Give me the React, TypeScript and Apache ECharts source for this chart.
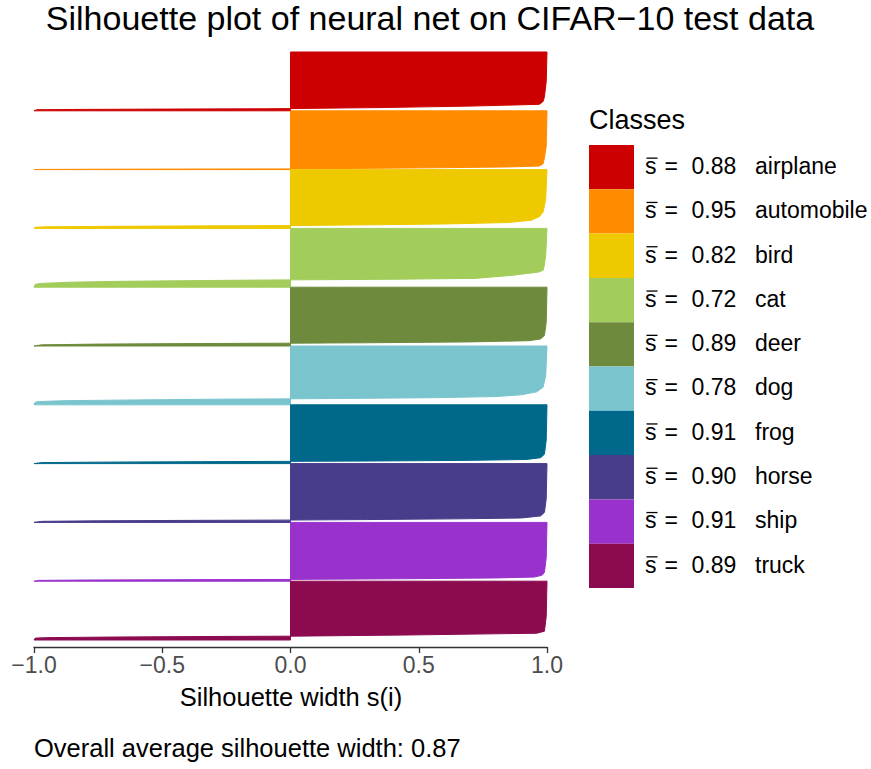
import React, { useEffect, useRef } from "react";
import * as echarts from "echarts";

const classNames = ["airplane", "automobile", "bird", "cat", "deer", "dog", "frog", "horse", "ship", "truck"];
const meanWidths = [0.88, 0.95, 0.82, 0.72, 0.89, 0.78, 0.91, 0.9, 0.91, 0.89];
const classColors = ["#CD0000", "#FF8C00", "#EEC900", "#A2CD5A", "#6E8B3D", "#7AC5CD", "#00688B", "#483D8B", "#9932CC", "#8B0A50"];
const xTicks = [-1, -0.5, 0, 0.5, 1];
const overallMean = 0.87;

// sorted silhouette profile of each class: [rank fraction within class (0 = top, 1 = bottom), silhouette width s(i)]
const airplaneProfile = [[0, 1.0], [0.5, 0.997], [0.76, 0.99], [0.84, 0.985], [0.89, 0.97], [0.92, 0.7], [0.945, 0.35], [0.962, 0], [0.966, -0.1], [0.971, -0.5], [0.977, -0.85], [0.982, -0.99], [1, -1.0]];
const automobileProfile = [[0, 1.0], [0.6, 0.997], [0.8, 0.99], [0.9, 0.985], [0.94, 0.97], [0.955, 0.85], [0.97, 0.55], [0.98, 0.25], [0.988, 0], [0.99, -0.3], [0.994, -0.75], [0.997, -0.98], [1, -1.0]];
const birdProfile = [[0, 1.0], [0.5, 0.995], [0.72, 0.985], [0.8, 0.97], [0.86, 0.94], [0.9, 0.85], [0.925, 0.6], [0.94, 0.3], [0.952, 0], [0.957, -0.3], [0.965, -0.7], [0.973, -0.95], [0.98, -0.995], [1, -1.0]];
const catProfile = [[0, 1.0], [0.45, 0.995], [0.62, 0.99], [0.71, 0.985], [0.74, 0.97], [0.8, 0.86], [0.85, 0.72], [0.865, 0.4], [0.875, 0], [0.885, -0.3], [0.9, -0.66], [0.915, -0.86], [0.935, -0.97], [0.95, -0.995], [1, -1.0]];
const deerProfile = [[0, 1.0], [0.6, 0.997], [0.82, 0.99], [0.88, 0.975], [0.91, 0.93], [0.93, 0.7], [0.945, 0.3], [0.952, 0], [0.958, -0.35], [0.968, -0.75], [0.98, -0.97], [1, -1.0]];
const dogProfile = [[0, 1.0], [0.5, 0.995], [0.7, 0.985], [0.78, 0.96], [0.83, 0.9], [0.86, 0.8], [0.88, 0.55], [0.892, 0.2], [0.898, 0], [0.905, -0.3], [0.917, -0.6], [0.93, -0.88], [0.945, -0.98], [0.955, -0.995], [1, -1.0]];
const frogProfile = [[0, 1.0], [0.6, 0.997], [0.84, 0.99], [0.9, 0.975], [0.93, 0.92], [0.945, 0.7], [0.955, 0.35], [0.962, 0], [0.967, -0.35], [0.975, -0.75], [0.983, -0.97], [1, -1.0]];
const horseProfile = [[0, 1.0], [0.6, 0.997], [0.83, 0.99], [0.89, 0.975], [0.925, 0.9], [0.94, 0.65], [0.952, 0.3], [0.96, 0], [0.965, -0.35], [0.973, -0.75], [0.982, -0.97], [1, -1.0]];
const shipProfile = [[0, 1.0], [0.6, 0.997], [0.85, 0.99], [0.9, 0.98], [0.93, 0.95], [0.945, 0.8], [0.958, 0.45], [0.967, 0.1], [0.97, 0], [0.974, -0.4], [0.98, -0.8], [0.986, -0.98], [1, -1.0]];
const truckProfile = [[0, 1.0], [0.6, 0.997], [0.85, 0.99], [0.885, 0.96], [0.915, 0.45], [0.935, 0], [0.94, -0.3], [0.95, -0.7], [0.96, -0.95], [0.968, -0.995], [1, -1.0]];

const profiles = [airplaneProfile, automobileProfile, birdProfile, catProfile, deerProfile, dogProfile, frogProfile, horseProfile, shipProfile, truckProfile];

const FONT = '"Liberation Sans", Arial, Helvetica, sans-serif';

export default function App() {
  const ref = useRef<HTMLDivElement>(null);

  useEffect(() => {
    if (!ref.current) return;
    const chart = echarts.init(ref.current, undefined, { renderer: "svg" });

    const series = classNames.map((name, i) => {
      const profile = profiles[i];
      const color = classColors[i];
      return {
        type: "custom",
        name,
        coordinateSystem: "cartesian2d",
        clip: false,
        encode: { x: 0, y: 1 },
        data: profile.map(([f, s]) => [s, i + f]),
        renderItem: (params: any, api: any) => {
          if (params.dataIndex !== 0) return null;
          const pts: number[][] = [api.coord([0, i + profile[0][0]])];
          profile.forEach(([f, s]) => pts.push(api.coord([s, i + f])));
          pts.push(api.coord([0, i + 1]));
          return {
            type: "polygon",
            shape: { points: pts },
            style: { fill: color, stroke: color, lineWidth: 1 },
          };
        },
      };
    });

    const keyTop = 145;
    const keyH = 44.3;
    const legendEls: any[] = [];
    legendEls.push({
      type: "text",
      x: 589,
      y: 120,
      style: { text: "Classes", fontSize: 27, fontFamily: FONT, fill: "#000", align: "left", verticalAlign: "middle" },
    });
    classNames.forEach((name, i) => {
      const cy = keyTop + keyH * (i + 0.5);
      legendEls.push({
        type: "rect",
        shape: { x: 589, y: keyTop + keyH * i, width: 45, height: keyH },
        style: { fill: classColors[i] },
      });
      legendEls.push({
        type: "text",
        x: 645,
        y: cy - 1.2,
        style: { text: "s", fontSize: 23, fontFamily: FONT, fill: "#000", align: "left", verticalAlign: "middle" },
      });
      legendEls.push({
        type: "line",
        shape: { x1: 646.5, y1: cy - 9, x2: 657.5, y2: cy - 9 },
        style: { stroke: "#000", lineWidth: 1.3 },
      });
      legendEls.push({
        type: "text",
        x: 664.5,
        y: cy - 1.2,
        style: { text: "=", fontSize: 23, fontFamily: FONT, fill: "#000", align: "left", verticalAlign: "middle" },
      });
      legendEls.push({
        type: "text",
        x: 691.5,
        y: cy - 1.2,
        style: { text: meanWidths[i].toFixed(2), fontSize: 23, fontFamily: FONT, fill: "#000", align: "left", verticalAlign: "middle" },
      });
      legendEls.push({
        type: "text",
        x: 755,
        y: cy - 1.2,
        style: { text: name, fontSize: 23, fontFamily: FONT, fill: "#000", align: "left", verticalAlign: "middle" },
      });
    });

    chart.setOption({
      animation: false,
      backgroundColor: "#fff",
      grid: { left: 34, top: 52, width: 513, height: 588, containLabel: false },
      xAxis: {
        type: "value",
        position: "bottom",
        min: xTicks[0],
        max: xTicks[xTicks.length - 1],
        interval: 0.5,
        offset: 7,
        axisLine: { show: true, onZero: false, lineStyle: { color: "#333", width: 1.3 } },
        axisTick: { show: true, length: 6, lineStyle: { color: "#333", width: 1.3 } },
        axisLabel: {
          color: "#4D4D4D",
          fontSize: 23,
          fontFamily: FONT,
          margin: 6,
          formatter: (v: number) => (v < 0 ? "\u2212" : "") + Math.abs(v).toFixed(1),
        },
        splitLine: { show: false },
      },
      yAxis: { type: "value", min: 0, max: 10, inverse: true, show: false },
      series,
      graphic: [
        {
          type: "text",
          x: 430,
          y: 18,
          style: {
            text: "Silhouette plot of neural net on CIFAR\u221210 test data",
            fontSize: 34,
            fontFamily: FONT,
            fill: "#000",
            align: "center",
            verticalAlign: "middle",
          },
        },
        {
          type: "text",
          x: 291,
          y: 697,
          style: { text: "Silhouette width s(i)", fontSize: 25.5, fontFamily: FONT, fill: "#000", align: "center", verticalAlign: "middle" },
        },
        {
          type: "text",
          x: 34,
          y: 748,
          style: {
            text: "Overall average silhouette width: " + overallMean.toFixed(2),
            fontSize: 25.5,
            fontFamily: FONT,
            fill: "#000",
            align: "left",
            verticalAlign: "middle",
          },
        },
        ...legendEls,
      ],
    });

    return () => chart.dispose();
  }, []);

  return <div ref={ref} style={{ position: "absolute", left: 0, top: 0, width: 871, height: 769 }} />;
}
